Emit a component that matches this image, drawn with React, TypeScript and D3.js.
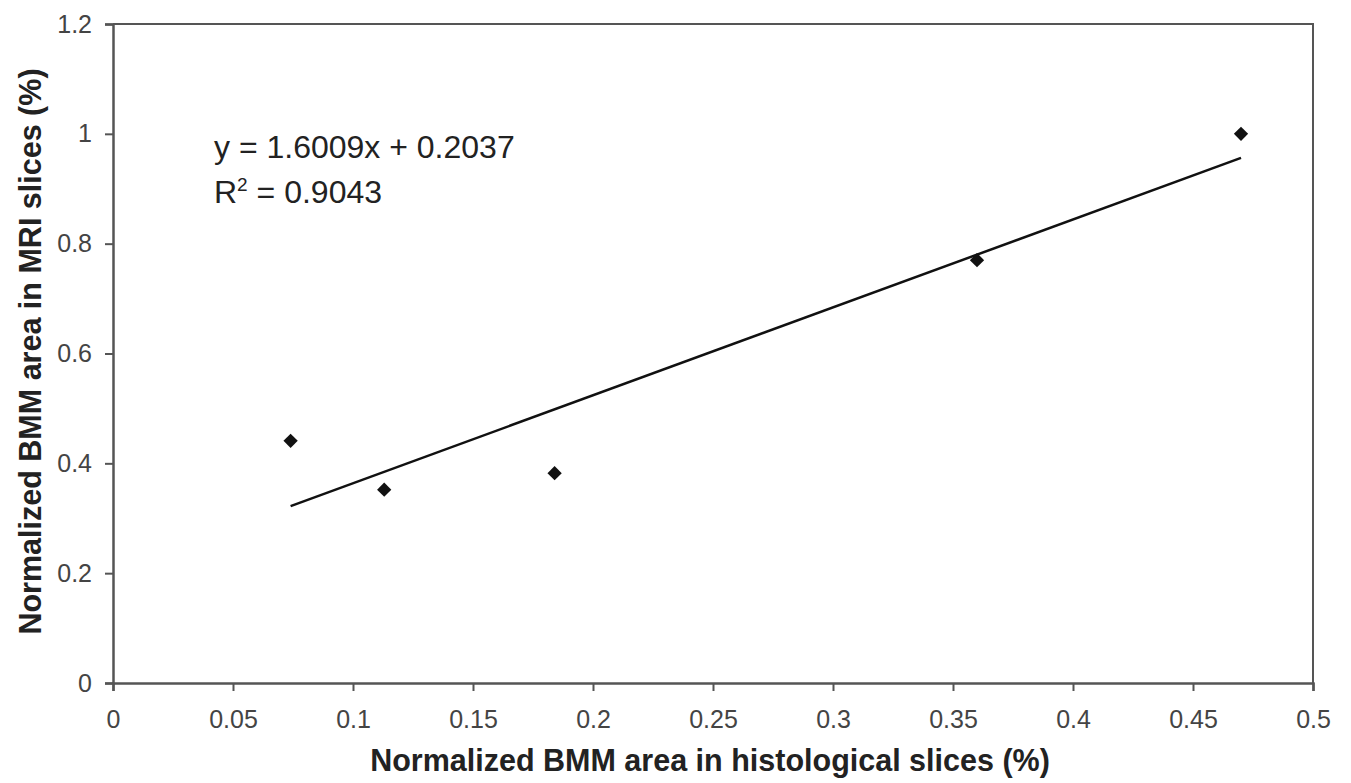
import React, { useEffect, useRef } from 'react';
import * as d3 from 'd3';

// values
const histoArea = [0.074, 0.113, 0.184, 0.36, 0.47];
const mriArea = [0.441, 0.352, 0.382, 0.77, 1.0];
const slope = 1.6009;
const intercept = 0.2037;
const rSquared = '0.9043';
const xTicks = [0, 0.05, 0.1, 0.15, 0.2, 0.25, 0.3, 0.35, 0.4, 0.45, 0.5];
const yTicks = [0, 0.2, 0.4, 0.6, 0.8, 1, 1.2];

const width = 1351;
const height = 783;
const margin = { left: 113, right: 38, top: 24, bottom: 100 };

export default function App() {
  const ref = useRef<SVGSVGElement>(null);

  useEffect(() => {
    const svg = d3.select(ref.current);
    svg.selectAll('*').remove();

    const x = d3.scaleLinear().domain([0, 0.5]).range([margin.left, width - margin.right]);
    const y = d3.scaleLinear().domain([0, 1.2]).range([height - margin.bottom, margin.top]);
    const font = 'Arial, "Liberation Sans", sans-serif';
    const axisColor = '#555';

    // frame: top and right edges
    svg.append('path')
      .attr('d', `M${x(0)},${y(1.2)}H${x(0.5)}V${y(0)}`)
      .attr('fill', 'none')
      .attr('stroke', axisColor)
      .attr('stroke-width', 2);

    const xAxis = svg.append('g')
      .attr('transform', `translate(0,${y(0)})`)
      .call(d3.axisBottom(x).tickValues(xTicks).tickSize(8).tickPadding(19).tickFormat(d => String(d)));
    const yAxis = svg.append('g')
      .attr('transform', `translate(${x(0)},0)`)
      .call(d3.axisLeft(y).tickValues(yTicks).tickSize(8).tickPadding(13).tickFormat(d => String(d)));

    [xAxis, yAxis].forEach(a => {
      a.attr('font-size', null).attr('font-family', null);
      a.select('.domain').attr('stroke', axisColor).attr('stroke-width', 2.5);
      a.selectAll('.tick line').attr('stroke', axisColor).attr('stroke-width', 2);
      a.selectAll('.tick text')
        .attr('fill', '#444')
        .style('font-family', font)
        .style('font-size', '25px');
    });

    // trendline
    const xs = d3.extent(histoArea) as [number, number];
    svg.append('line')
      .attr('x1', x(xs[0])).attr('y1', y(slope * xs[0] + intercept))
      .attr('x2', x(xs[1])).attr('y2', y(slope * xs[1] + intercept))
      .attr('stroke', '#111')
      .attr('stroke-width', 2.5);

    // points
    svg.append('g')
      .selectAll('path')
      .data(histoArea)
      .enter()
      .append('path')
      .attr('transform', (d, i) => `translate(${x(d)},${y(mriArea[i])})`)
      .attr('d', d3.symbol(d3.symbolDiamond2, 130)())
      .attr('fill', '#111');

    // equation
    const eq = svg.append('g')
      .style('font-family', font)
      .style('font-size', '32px')
      .attr('fill', '#222');
    eq.append('text')
      .attr('x', 214).attr('y', 158)
      .text(`y = ${slope}x + ${intercept}`);
    const r2 = eq.append('text').attr('x', 214).attr('y', 203);
    r2.append('tspan').text('R');
    r2.append('tspan').attr('dy', -12).style('font-size', '19px').text('2');
    r2.append('tspan').attr('dy', 12).text(` = ${rSquared}`);

    // axis titles
    svg.append('text')
      .attr('x', (x(0) + x(0.5)) / 2 - 3)
      .attr('y', 771)
      .attr('text-anchor', 'middle')
      .style('font-family', font)
      .style('font-size', '30.5px')
      .style('font-weight', 'bold')
      .attr('fill', '#222')
      .text('Normalized BMM area in histological slices (%)');

    svg.append('text')
      .attr('transform', `translate(41,${(y(0) + y(1.2)) / 2 - 2}) rotate(-90)`)
      .attr('text-anchor', 'middle')
      .style('font-family', font)
      .style('font-size', '30.5px')
      .style('font-weight', 'bold')
      .attr('fill', '#222')
      .text('Normalized BMM area in MRI slices (%)');
  }, []);

  return (
    <svg ref={ref} width={width} height={height} style={{ position: 'absolute', left: 0, top: 0, background: '#fff' }} />
  );
}
